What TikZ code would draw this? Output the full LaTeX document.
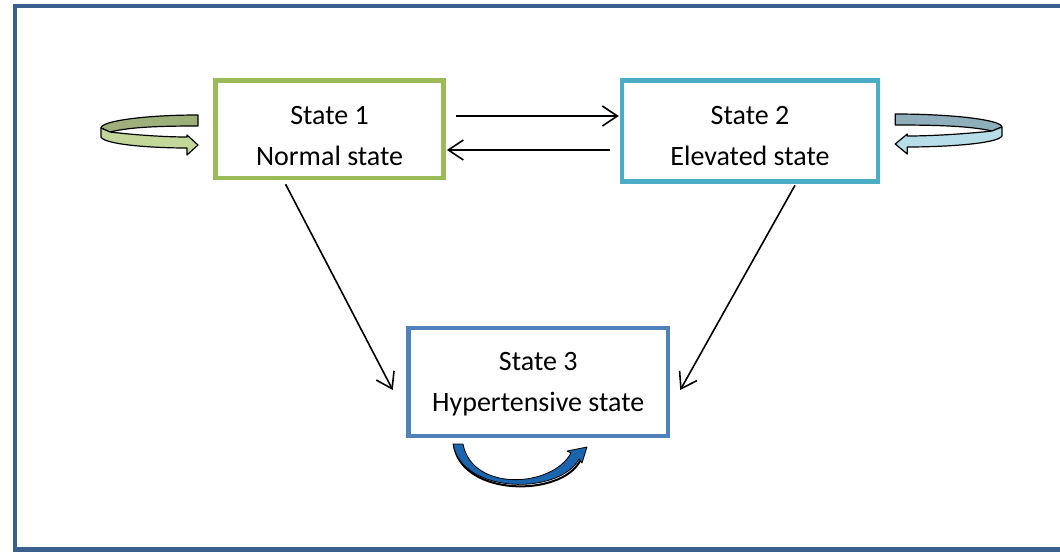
\documentclass[tikz,border=0pt]{standalone}
\usepackage{fontspec}
\setmainfont{Carlito}
\usetikzlibrary{arrows.meta,calc}
\definecolor{frameblue}{RGB}{58,95,140}
\definecolor{sgreen}{RGB}{155,187,89}
\definecolor{steal}{RGB}{75,172,198}
\definecolor{sblue}{RGB}{79,129,189}
\definecolor{ldark}{RGB}{157,176,122}
\definecolor{llight}{RGB}{196,215,155}
\definecolor{rdark}{RGB}{143,174,188}
\definecolor{rlight}{RGB}{183,222,232}
\definecolor{cblue}{RGB}{26,101,174}
\tikzset{
  stbox/.style={draw, line width=4.5pt, fill=white, inner sep=0pt},
  lbl/.style={anchor=base, inner sep=0pt, font=\fontsize{28pt}{40pt}\selectfont},
  arr/.style={line width=1.6pt, -{Straight Barb[length=15pt,width=20pt,line width=1.6pt]}},
  ribbon/.style={draw=black, line width=1.2pt, line join=round},
}
\newcommand{\selfloop}[2]{%
  \path[ribbon, fill=#1] (48,-17) .. controls (-5,-17) and (-49,-11) .. (-49,-4)
     -- (-40,0) .. controls (-20,-5) and (10,-6) .. (48,-6) -- cycle;
  \path[ribbon, fill=#2] (-49,-4) -- (-40,0) .. controls (-15,3) and (15,5) .. (37,5)
     -- (37,3) -- (48,13) -- (37,23) -- (37,16)
     .. controls (5,16) and (-45,13) .. (-49,5) -- cycle;
}
\begin{document}
\begin{tikzpicture}[x=1pt,y=-1pt]
\useasboundingbox (0,0) rectangle (1060,552);
\fill[white] (0,0) rectangle (1060,552);
\draw[frameblue, line width=4.5pt] (15,6) rectangle (1070,549.5);

\node[stbox, draw=sgreen, minimum width=228.2pt, minimum height=97.5pt] (s1) at (329.6,129.25) {};
\node[stbox, draw=steal, minimum width=256pt, minimum height=101.2pt] (s2) at (750,131.1) {};
\node[stbox, draw=sblue, minimum width=259.5pt, minimum height=108pt] (s3) at (538.25,382) {};

\node[lbl] (t1a) at ($(s1.north)+(0,46)$) {State 1};
\node[lbl] (t1b) at ($(s1.north)+(0,87)$) {Normal state};
\node[lbl] (t2a) at ($(s2.north)+(0,46)$) {State 2};
\node[lbl] (t2b) at ($(s2.north)+(0,87)$) {Elevated state};
\node[lbl] (t3a) at ($(s3.north)+(0,45)$) {State 3};
\node[lbl] (t3b) at ($(s3.north)+(0,86)$) {Hypertensive state};

\draw[arr] ($(s1.east)+(10,-13.25)$) -- ($(s2.west)+(-1,-15.1)$);
\draw[arr] ($(s2.west)+(-10,18.9)$) -- ($(s1.east)+(1,20.75)$);
\draw[arr] ($(s1.south)+(-44,4)$) -- ($(s3.west)+(-13.5,8)$);
\draw[arr] ($(s2.south)+(45,1.3)$) -- ($(s3.east)+(10,8)$);

\begin{scope}[shift={(150,132)}]
  \selfloop{ldark}{llight}
\end{scope}
\begin{scope}[shift={(948,131)}, xscale=-1.1]
  \selfloop{rdark}{rlight}
\end{scope}

% bottom self-loop of State 3
\draw[black, line width=2pt, line cap=round] (454,446) .. controls (463,497) and (561,497) .. (580,461);
\path[draw=black, line width=0.8pt, fill=cblue, line join=round]
  (463,444) .. controls (472,492) and (552,488) .. (571,453)
  -- (567,451) -- (587,447) -- (582,463) -- (579,459)
  .. controls (560,495) and (462,495) .. (453,444) -- cycle;
\end{tikzpicture}
\end{document}
